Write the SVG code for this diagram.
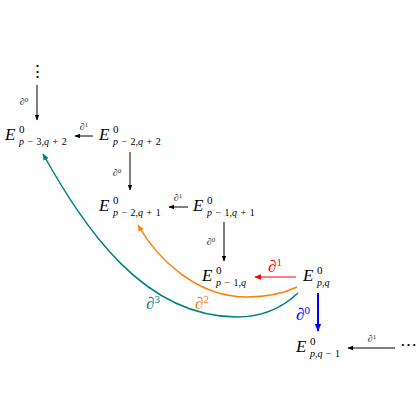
<svg xmlns="http://www.w3.org/2000/svg" width="420" height="420" viewBox="0 0 420 420">
<style>
.n{font-family:"Liberation Serif",serif;font-size:17px;fill:#000}
.i{font-style:italic}
.p{font-size:11px}
.s{font-size:10px}
.l{font-family:"Liberation Serif",serif;font-size:10px;fill:#333}
.L{font-family:"Liberation Serif",serif;font-size:17px}
.a{stroke:#000;stroke-width:1;fill:none}
</style>
<defs>
<marker id="ak" viewBox="0 0 10 10" refX="9" refY="5" markerWidth="6" markerHeight="6" orient="auto" markerUnits="userSpaceOnUse"><path d="M0,1 L10,5 L0,9 Z" fill="#000"/></marker>
<marker id="ar" viewBox="0 0 10 10" refX="9" refY="5" markerWidth="7" markerHeight="7" orient="auto" markerUnits="userSpaceOnUse"><path d="M0,1 L10,5 L0,9 Z" fill="#f00"/></marker>
<marker id="ab" viewBox="0 0 10 10" refX="9" refY="5" markerWidth="8" markerHeight="8" orient="auto" markerUnits="userSpaceOnUse"><path d="M0,1 L10,5 L0,9 Z" fill="#00f"/></marker>
<marker id="ao" viewBox="0 0 10 10" refX="9" refY="5" markerWidth="7" markerHeight="7" orient="auto" markerUnits="userSpaceOnUse"><path d="M0,1 L10,5 L0,9 Z" fill="#ff8000"/></marker>
<marker id="at" viewBox="0 0 10 10" refX="9" refY="5" markerWidth="7" markerHeight="7" orient="auto" markerUnits="userSpaceOnUse"><path d="M0,1 L10,5 L0,9 Z" fill="#008080"/></marker>
</defs>
<g id="vdots"><text x="37" y="77" class="n" font-size="14" text-anchor="middle">⋮</text></g>
<g id="n1"><text x="5" y="140" class="n"><tspan class="i">E</tspan><tspan class="p" dx="3.5" dy="-7">0</tspan><tspan class="s" dx="-5.5" dy="11.5"><tspan class="i">p</tspan><tspan dx="3.5">−</tspan><tspan dx="3.5">3,</tspan><tspan class="i">q</tspan><tspan dx="3.5">+</tspan><tspan dx="3.5">2</tspan></tspan></text></g>
<g id="n2"><text x="99" y="140" class="n"><tspan class="i">E</tspan><tspan class="p" dx="3.5" dy="-7">0</tspan><tspan class="s" dx="-5.5" dy="11.5"><tspan class="i">p</tspan><tspan dx="3.5">−</tspan><tspan dx="3.5">2,</tspan><tspan class="i">q</tspan><tspan dx="3.5">+</tspan><tspan dx="3.5">2</tspan></tspan></text></g>
<g id="n3"><text x="99" y="211" class="n"><tspan class="i">E</tspan><tspan class="p" dx="3.5" dy="-7">0</tspan><tspan class="s" dx="-5.5" dy="11.5"><tspan class="i">p</tspan><tspan dx="3.5">−</tspan><tspan dx="3.5">2,</tspan><tspan class="i">q</tspan><tspan dx="3.5">+</tspan><tspan dx="3.5">1</tspan></tspan></text></g>
<g id="n4"><text x="193" y="211" class="n"><tspan class="i">E</tspan><tspan class="p" dx="3.5" dy="-7">0</tspan><tspan class="s" dx="-5.5" dy="11.5"><tspan class="i">p</tspan><tspan dx="3.5">−</tspan><tspan dx="3.5">1,</tspan><tspan class="i">q</tspan><tspan dx="3.5">+</tspan><tspan dx="3.5">1</tspan></tspan></text></g>
<g id="n5"><text x="202" y="281" class="n"><tspan class="i">E</tspan><tspan class="p" dx="3.5" dy="-7">0</tspan><tspan class="s" dx="-5.5" dy="11.5"><tspan class="i">p</tspan><tspan dx="3.5">−</tspan><tspan dx="3.5">1,</tspan><tspan class="i">q</tspan></tspan></text></g>
<g id="n6"><text x="303" y="281" class="n"><tspan class="i">E</tspan><tspan class="p" dx="3.5" dy="-7">0</tspan><tspan class="s" dx="-5.5" dy="11.5"><tspan class="i">p</tspan>,<tspan class="i">q</tspan></tspan></text></g>
<g id="n7"><text x="296" y="352" class="n"><tspan class="i">E</tspan><tspan class="p" dx="3.5" dy="-7">0</tspan><tspan class="s" dx="-5.5" dy="11.5"><tspan class="i">p</tspan>,<tspan class="i">q</tspan><tspan dx="3.5">−</tspan><tspan dx="3.5">1</tspan></tspan></text></g>
<g id="cdots"><text x="408" y="350" class="n" font-size="15" text-anchor="middle">⋯</text></g>
<g id="connectors">
<line x1="37" y1="85" x2="37" y2="120" class="a" marker-end="url(#ak)"/>
<text x="24" y="105" class="l" text-anchor="middle">∂<tspan font-size="7" dy="-3.5">0</tspan></text>
<line x1="93" y1="136" x2="75" y2="136" class="a" marker-end="url(#ak)"/>
<text x="84" y="130" class="l" text-anchor="middle">∂<tspan font-size="7" dy="-3.5">1</tspan></text>
<line x1="130" y1="152" x2="130" y2="190" class="a" marker-end="url(#ak)"/>
<text x="117" y="176" class="l" text-anchor="middle">∂<tspan font-size="7" dy="-3.5">0</tspan></text>
<line x1="188" y1="207" x2="169" y2="207" class="a" marker-end="url(#ak)"/>
<text x="178" y="201" class="l" text-anchor="middle">∂<tspan font-size="7" dy="-3.5">1</tspan></text>
<line x1="224" y1="222" x2="224" y2="261" class="a" marker-end="url(#ak)"/>
<text x="211" y="245" class="l" text-anchor="middle">∂<tspan font-size="7" dy="-3.5">0</tspan></text>
<line x1="395" y1="348" x2="348" y2="348" class="a" marker-end="url(#ak)"/>
<text x="372" y="342" class="l" text-anchor="middle">∂<tspan font-size="7" dy="-3.5">1</tspan></text>
<line x1="296" y1="277" x2="255" y2="277" stroke="#f00" stroke-width="1" marker-end="url(#ar)"/>
<text x="275" y="272" class="L" fill="#f00" text-anchor="middle">∂<tspan font-size="11" dy="-6">1</tspan></text>
<line x1="318" y1="293" x2="318" y2="331" stroke="#00f" stroke-width="2" marker-end="url(#ab)"/>
<text x="303" y="320" class="L" fill="#00f" text-anchor="middle">∂<tspan font-size="11" dy="-6">0</tspan></text>
<path d="M297,287 C280,295 265,297 247,297 C197,297 158,260 138,225" fill="none" stroke="#ff8000" stroke-width="1.5" marker-end="url(#ao)"/>
<text x="202" y="309" class="L" fill="#ff8000" text-anchor="middle">∂<tspan font-size="11" dy="-6">2</tspan></text>
<path d="M298,293 C280,310 260,317 237,317 C142,317 83,225 43,154" fill="none" stroke="#008080" stroke-width="1.5" marker-end="url(#at)"/>
<text x="153" y="309" class="L" fill="#008080" text-anchor="middle">∂<tspan font-size="11" dy="-6">3</tspan></text>
</g>
</svg>
